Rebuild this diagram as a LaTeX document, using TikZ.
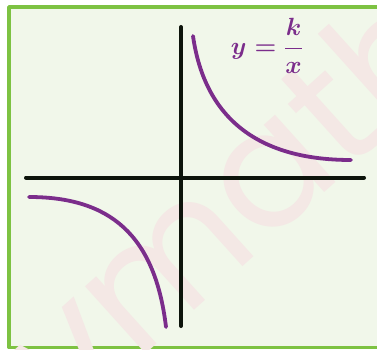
\documentclass[tikz,border=0pt]{standalone}
\usepackage{amsmath}
\usepackage{fontspec}
\usepackage{xcolor}
\usepackage{tikz}
\newfontfamily\markfont{Poppins}
\definecolor{frameGreen}{HTML}{7DC242}
\definecolor{paperGreen}{HTML}{F1F7EA}
\definecolor{curvePurple}{HTML}{7B2D8B}
\definecolor{axisBlack}{HTML}{0D140B}
\definecolor{markPink}{HTML}{F4E8E5}

\begin{document}
\begin{tikzpicture}[x=1pt, y=1pt, line cap=round, line join=round]

\useasboundingbox (0,0) rectangle (377,349);
\fill[white] (0,0) rectangle (377,349);


\filldraw[fill=paperGreen, draw=frameGreen, line width=3.5pt] (9,1.5) rectangle (390,342);


\node[rotate=42, text=markPink, font=\markfont\fontsize{165}{165}\selectfont] (wm) at (228,150) {vmath};


\coordinate (O) at (181,171.5);
\draw[axisBlack, line width=4pt] (26,171.5) -- (364,171.5);
\draw[axisBlack, line width=4pt] (181,322) -- (181,23);


\draw[curvePurple, line width=3.8pt] (193,313) .. controls (205,229) and (260,189) .. (351,189);
\draw[curvePurple, line width=3.8pt] (29,152) .. controls (110,152) and (155,114) .. (166,22);


\node[text=curvePurple, font=\fontsize{35}{35}\selectfont\boldmath] (lbl) at (267,303) {$\displaystyle y=\frac{k}{x}$};

\end{tikzpicture}
\end{document}
